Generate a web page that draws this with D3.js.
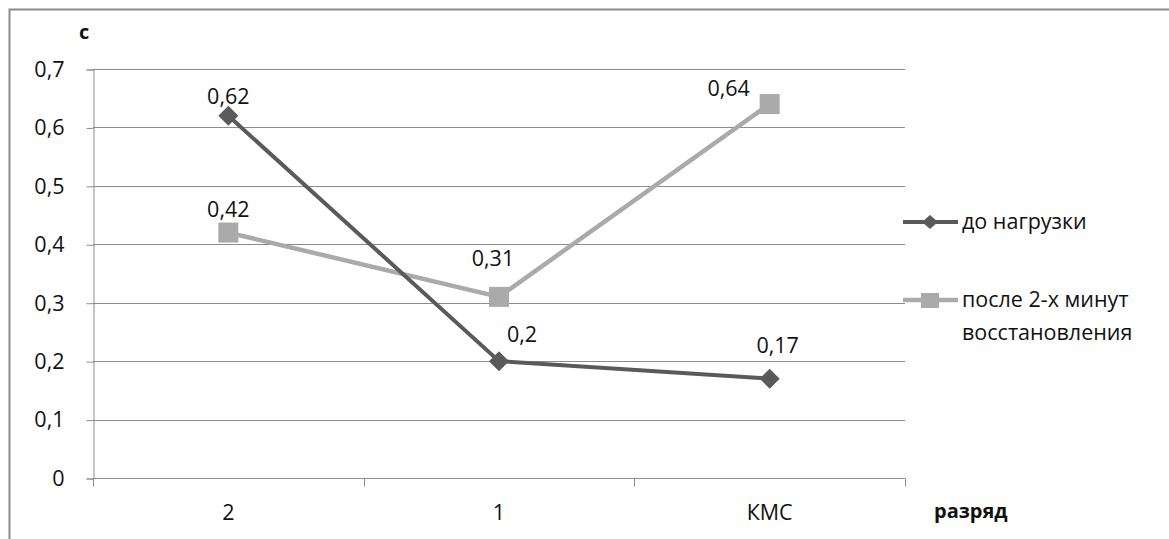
<!DOCTYPE html>
<html>
<head>
<meta charset="utf-8">
<script src="https://cdn.jsdelivr.net/npm/d3@7"></script>
<style>
  html, body { margin: 0; padding: 0; background: #fff; }
  svg { display: block; }
  text { font-family: "Open Sans", "Noto Sans", sans-serif; fill: #111; }
</style>
</head>
<body>
<svg id="chart" width="1169" height="539"></svg>
<script>
// Categories (разряд) and series values (с)
const categories = ["2", "1", "КМС"];
const beforeLoad = [0.62, 0.2, 0.17];
const afterRecovery = [0.42, 0.31, 0.64];
const seriesNames = ["до нагрузки", "после 2-х минут", "восстановления"];
const yTicks = [0, 0.1, 0.2, 0.3, 0.4, 0.5, 0.6, 0.7];

const svg = d3.select("#chart");
const W = 1169, H = 539;
const plot = { left: 93, right: 905, top: 69, bottom: 478 };
const FS = 21.5;

// Outer frame (only top and left edges fall inside the view)
svg.append("path")
  .attr("d", `M9.5,${H} V9.5 H${W}`)
  .attr("fill", "none").attr("stroke", "#8c8c8c").attr("stroke-width", 2);

const x = d3.scaleBand().domain(categories).range([plot.left, plot.right]);
const y = d3.scaleLinear().domain([0, 0.7]).range([plot.bottom, plot.top]);
const fmt = d => String(d).replace(".", ",");

// Gridlines
svg.append("g").selectAll("line").data(yTicks.filter(d => d > 0)).join("line")
  .attr("x1", plot.left).attr("x2", plot.right)
  .attr("y1", d => Math.round(y(d)) + 0.5).attr("y2", d => Math.round(y(d)) + 0.5)
  .attr("stroke", "#8c8c8c").attr("stroke-width", 1);

// Y axis
const yAxis = svg.append("g")
  .attr("transform", `translate(${plot.left + 0.5},0.5)`)
  .call(d3.axisLeft(y).tickValues(yTicks).tickFormat(fmt).tickSize(7).tickPadding(22));
yAxis.select(".domain").attr("stroke", "#8c8c8c");
yAxis.selectAll(".tick line").attr("stroke", "#8c8c8c");
yAxis.selectAll(".tick text").attr("font-size", FS).attr("fill", "#111")
  .attr("font-family", "Open Sans, Noto Sans, sans-serif");

// X axis with ticks at band boundaries
const xAxisG = svg.append("g").attr("transform", `translate(0,${Math.round(plot.bottom) + 0.5})`);
xAxisG.append("line").attr("x1", plot.left).attr("x2", plot.right)
  .attr("stroke", "#8c8c8c");
const bounds = categories.map(c => x(c)).concat([x(categories[categories.length - 1]) + x.bandwidth()]);
xAxisG.selectAll("line.tk").data(bounds).join("line").attr("class", "tk")
  .attr("x1", d => Math.round(d) + 0.5).attr("x2", d => Math.round(d) + 0.5)
  .attr("y1", 0).attr("y2", 8).attr("stroke", "#8c8c8c");
xAxisG.selectAll("text").data(categories).join("text")
  .attr("x", d => x(d) + x.bandwidth() / 2).attr("y", 41)
  .attr("text-anchor", "middle").attr("font-size", FS).text(d => d);

// Axis titles
svg.append("text").attr("x", 79).attr("y", 39).attr("font-size", 20)
  .attr("font-weight", "bold").text("с");
svg.append("text").attr("x", 934).attr("y", 518).attr("font-size", 20)
  .attr("font-weight", "bold").text("разряд");

const cx = c => x(c) + x.bandwidth() / 2;
const line = d3.line().x((d, i) => cx(categories[i])).y(d => y(d));

const darkColor = "#5a5a5a", lightColor = "#aaaaaa";

// Series lines
svg.append("path").datum(afterRecovery).attr("d", line)
  .attr("fill", "none").attr("stroke", lightColor).attr("stroke-width", 4.5);
svg.append("path").datum(beforeLoad).attr("d", line)
  .attr("fill", "none").attr("stroke", darkColor).attr("stroke-width", 4);

// Markers
const diamond = (w, h) => `M0,${-h} L${w},0 L0,${h} L${-w},0 Z`;
svg.append("g").selectAll("path").data(beforeLoad).join("path")
  .attr("transform", (d, i) => `translate(${cx(categories[i])},${y(d)})`)
  .attr("d", diamond(10, 10)).attr("fill", darkColor);
svg.append("g").selectAll("rect").data(afterRecovery).join("rect")
  .attr("x", (d, i) => cx(categories[i]) - 10).attr("y", d => y(d) - 10)
  .attr("width", 20).attr("height", 20).attr("fill", lightColor);

// Data labels (placement offsets per point)
const darkLabelShift = [[0, -12], [23, -19], [8, -26]];
const lightLabelShift = [[0, -16], [-6, -31], [-41, -8]];
svg.append("g").selectAll("text").data(beforeLoad).join("text")
  .attr("x", (d, i) => cx(categories[i]) + darkLabelShift[i][0])
  .attr("y", (d, i) => y(d) + darkLabelShift[i][1])
  .attr("text-anchor", "middle").attr("font-size", FS).text(fmt);
svg.append("g").selectAll("text").data(afterRecovery).join("text")
  .attr("x", (d, i) => cx(categories[i]) + lightLabelShift[i][0])
  .attr("y", (d, i) => y(d) + lightLabelShift[i][1])
  .attr("text-anchor", "middle").attr("font-size", FS).text(fmt);

// Legend
const lg = svg.append("g");
lg.append("line").attr("x1", 903).attr("x2", 958).attr("y1", 222).attr("y2", 222)
  .attr("stroke", darkColor).attr("stroke-width", 4);
lg.append("path").attr("transform", "translate(930,222)").attr("d", diamond(8, 7)).attr("fill", darkColor);
lg.append("text").attr("x", 962).attr("y", 229).attr("font-size", FS).text(seriesNames[0]);

lg.append("line").attr("x1", 903).attr("x2", 958).attr("y1", 300).attr("y2", 300)
  .attr("stroke", lightColor).attr("stroke-width", 4.5);
lg.append("rect").attr("x", 921).attr("y", 293).attr("width", 18).attr("height", 15).attr("fill", lightColor);
lg.append("text").attr("x", 962).attr("y", 307).attr("font-size", FS).text(seriesNames[1]);
lg.append("text").attr("x", 962).attr("y", 340).attr("font-size", FS).text(seriesNames[2]);
</script>
</body>
</html>
